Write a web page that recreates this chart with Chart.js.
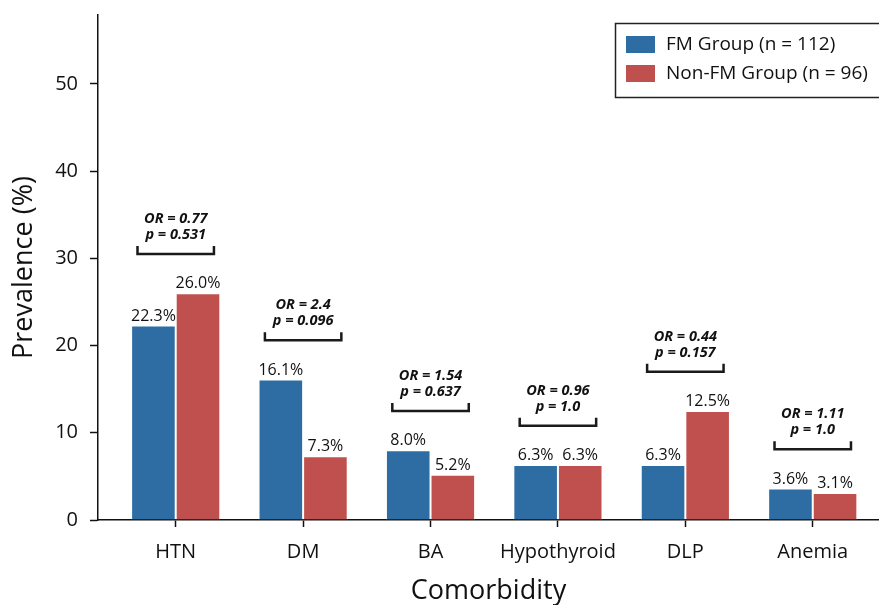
<!DOCTYPE html>
<html>
<head>
<meta charset="utf-8">
<script src="https://cdn.jsdelivr.net/npm/chart.js@4.4.1/dist/chart.umd.min.js"></script>
<style>
  html, body { margin: 0; padding: 0; background: #fff; }
</style>
</head>
<body>
<canvas id="chart" width="879" height="605"></canvas>
<script>
(function(){
  // data
  const categories = ['HTN', 'DM', 'BA', 'Hypothyroid', 'DLP', 'Anemia'];
  const fmGroup = [22.3, 16.1, 8.0, 6.3, 6.3, 3.6];
  const nonFmGroup = [26.0, 7.3, 5.2, 6.3, 12.5, 3.1];
  const oddsRatios = ['0.77', '2.4', '1.54', '0.96', '0.44', '1.11'];
  const pValues = ['0.531', '0.096', '0.637', '1.0', '0.157', '1.0'];
  const yTicks = [0, 10, 20, 30, 40, 50];

  const FONT = "'Open Sans', 'Noto Sans', sans-serif";
  const INK = '#111';
  const BLUE = '#2e6ca4';
  const RED = '#c0504e';

  // value labels, OR/p brackets and the boxed legend
  const annotate = {
    id: 'annotate',
    afterDatasetsDraw(chart) {
      const ctx = chart.ctx;
      const xs = chart.scales.x, ys = chart.scales.y;
      ctx.save();

      // percent labels above each bar
      ctx.font = '500 16px ' + FONT;
      ctx.fillStyle = INK;
      ctx.textAlign = 'center';
      ctx.textBaseline = 'alphabetic';
      chart.data.datasets.forEach((ds, d) => {
        chart.getDatasetMeta(d).data.forEach((bar, i) => {
          ctx.fillText(ds.data[i].y.toFixed(1) + '%', bar.x, bar.y - 5);
        });
      });

      // brackets with OR and p
      categories.forEach((c, i) => {
        const top = Math.max(fmGroup[i], nonFmGroup[i]) + 4.5;
        const x0 = xs.getPixelForValue(i - 0.3);
        const x1 = xs.getPixelForValue(i + 0.3);
        const y = ys.getPixelForValue(top);
        ctx.strokeStyle = '#1a1a1a';
        ctx.lineWidth = 2.5;
        ctx.beginPath();
        ctx.moveTo(x0, y - 8);
        ctx.lineTo(x0, y);
        ctx.lineTo(x1, y);
        ctx.lineTo(x1, y - 8);
        ctx.stroke();
        const cx = xs.getPixelForValue(i);
        ctx.font = 'italic bold 14.5px ' + FONT;
        ctx.textBaseline = 'middle';
        ctx.fillText('OR = ' + oddsRatios[i], cx, y - 35);
        ctx.fillText('p = ' + pValues[i], cx, y - 19);
      });

      // legend box
      const lx = 615, ly = 23;
      ctx.strokeStyle = '#222';
      ctx.lineWidth = 1.5;
      ctx.strokeRect(lx + 0.5, ly + 0.5, 300, 74);
      ctx.font = '500 19px ' + FONT;
      ctx.textAlign = 'left';
      ctx.textBaseline = 'middle';
      chart.data.datasets.forEach((ds, d) => {
        const ry = ly + 13 + d * 29;
        ctx.fillStyle = ds.backgroundColor;
        ctx.fillRect(lx + 11, ry, 29, 17);
        ctx.fillStyle = INK;
        ctx.fillText(ds.label, lx + 51, ry + 9);
      });
      ctx.restore();
    }
  };

  new Chart(document.getElementById('chart').getContext('2d'), {
    type: 'bar',
    data: {
      datasets: [{
        label: 'FM Group (n = 112)',
        data: fmGroup.map((v, i) => ({ x: i, y: v })),
        backgroundColor: BLUE,
        borderColor: 'rgba(255,255,255,0.5)',
        borderWidth: 1
      }, {
        label: 'Non-FM Group (n = 96)',
        data: nonFmGroup.map((v, i) => ({ x: i, y: v })),
        backgroundColor: RED,
        borderColor: 'rgba(255,255,255,0.5)',
        borderWidth: 1
      }]
    },
    options: {
      responsive: false,
      animation: false,
      categoryPercentage: 0.7,
      barPercentage: 1,
      layout: { padding: { top: 15, right: 0, left: 0, bottom: 0 } },
      plugins: {
        legend: { display: false },
        tooltip: { enabled: false }
      },
      scales: {
        x: {
          type: 'linear',
          min: -0.61,
          max: 5.52,
          offset: false,
          afterBuildTicks: s => { s.ticks = categories.map((c, i) => ({ value: i })); },
          afterFit: s => { s.height = 85; s.paddingLeft = 0; s.paddingRight = 0; },
          ticks: {
            callback: v => categories[v] || '',
            font: { family: FONT, size: 20, weight: 500 },
            color: INK,
            padding: 13,
            maxRotation: 0,
            autoSkip: false
          },
          grid: {
            offset: false,
            drawOnChartArea: false,
            drawTicks: true,
            tickLength: 7,
            tickColor: '#111',
            tickWidth: 1.5
          },
          border: { display: true, color: '#111', width: 1.5 },
          title: {
            display: true,
            text: 'Comorbidity',
            font: { family: FONT, size: 27, lineHeight: 1, weight: 500 },
            color: INK,
            padding: { top: 0, bottom: 0 }
          }
        },
        y: {
          min: 0,
          max: 57.9,
          afterBuildTicks: s => { s.ticks = yTicks.map(v => ({ value: v })); },
          afterFit: s => { s.width = 98; s.paddingTop = 0; s.paddingBottom = 0; },
          ticks: {
            font: { family: FONT, size: 20, weight: 500 },
            color: INK,
            padding: 12
          },
          grid: {
            drawOnChartArea: false,
            drawTicks: true,
            tickLength: 8,
            tickColor: '#111',
            tickWidth: 1.5
          },
          border: { display: true, color: '#111', width: 1.5 },
          title: {
            display: true,
            text: 'Prevalence (%)',
            font: { family: FONT, size: 27, lineHeight: 1, weight: 500 },
            color: INK,
            padding: { top: 11, bottom: 0 }
          }
        }
      }
    },
    plugins: [annotate]
  });
})();
</script>
</body>
</html>
